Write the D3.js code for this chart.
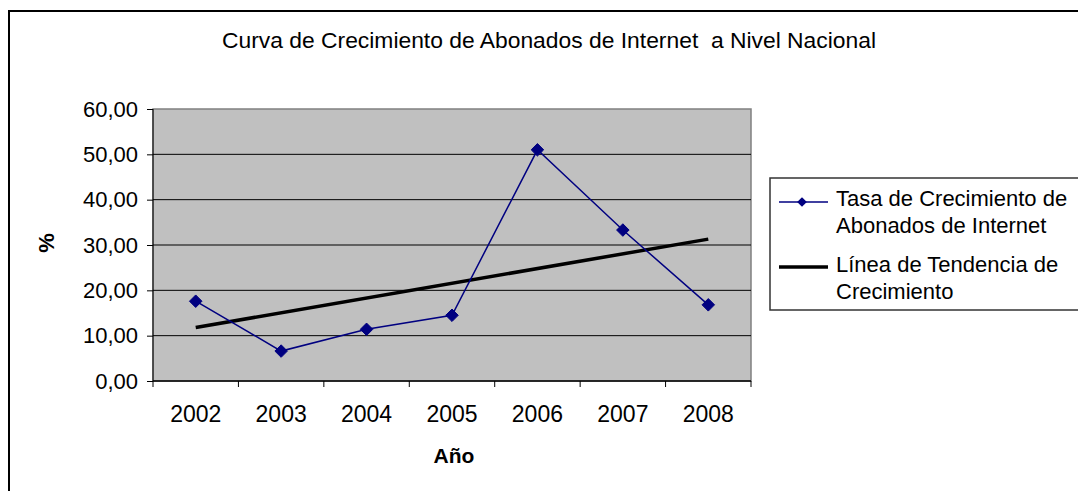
<!DOCTYPE html>
<html>
<head>
<meta charset="utf-8">
<script src="https://cdn.jsdelivr.net/npm/d3@7"></script>
<style>
  body { margin: 0; background: #fff; }
  text { font-family: "Liberation Sans", Arial, sans-serif; fill: #000; }
</style>
</head>
<body>
<div id="chart"></div>
<script>
// values
var years = ['2002', '2003', '2004', '2005', '2006', '2007', '2008'];
var tasa = [17.6, 6.6, 11.4, 14.5, 51.0, 33.3, 16.8];
var trendYears = ['2002', '2008'];
var trendValues = [11.8, 31.3];
var yTicks = [0, 10, 20, 30, 40, 50, 60];
var legendLabels = [
	['Tasa de Crecimiento de', 'Abonados de Internet'],
	['Línea de Tendencia de', 'Crecimiento']
];

var width = 1078, height = 491;
var plot = { left: 153, right: 751, top: 109, bottom: 381 };

var svg = d3.select('#chart').append('svg')
	.attr('width', width).attr('height', height);

// chart frame
svg.append('rect')
	.attr('x', 9).attr('y', 11)
	.attr('width', 1100).attr('height', 520)
	.attr('fill', '#fff').attr('stroke', '#000').attr('stroke-width', 2);

svg.append('text')
	.attr('x', 549).attr('y', 48)
	.attr('text-anchor', 'middle')
	.attr('font-size', 22)
	.style('white-space', 'pre')
	.attr('textLength', 654).attr('lengthAdjust', 'spacingAndGlyphs')
	.text('Curva de Crecimiento de Abonados de Internet  a Nivel Nacional');

var x = d3.scaleBand().domain(years).range([plot.left, plot.right]);
var y = d3.scaleLinear().domain([0, 60]).range([plot.bottom, plot.top]);

// plot area
svg.append('rect')
	.attr('x', plot.left).attr('y', plot.top)
	.attr('width', plot.right - plot.left).attr('height', plot.bottom - plot.top)
	.attr('fill', '#c0c0c0').attr('stroke', '#808080').attr('stroke-width', 1.5);

svg.append('g').selectAll('line')
	.data(yTicks.filter(function(d) { return d > 0 && d < 60; }))
	.enter().append('line')
	.attr('x1', plot.left).attr('x2', plot.right)
	.attr('y1', function(d) { return y(d); }).attr('y2', function(d) { return y(d); })
	.attr('stroke', '#000').attr('stroke-width', 1);

// y axis
var yAxis = svg.append('g')
	.attr('transform', 'translate(' + plot.left + ',0)')
	.call(d3.axisLeft(y).tickValues(yTicks).tickSize(6).tickPadding(9)
		.tickFormat(function(d) { return d3.format('.2f')(d).replace('.', ','); }));
yAxis.selectAll('text').attr('font-size', 22).style('font-family', '"Liberation Sans", Arial, sans-serif').attr('fill', '#000');
yAxis.selectAll('line, path').attr('stroke', '#000');
yAxis.select('.domain').attr('d', 'M0,' + plot.top + 'V' + plot.bottom);

// x axis, ticks between categories
var xAxis = svg.append('g')
	.attr('transform', 'translate(0,' + plot.bottom + ')');
xAxis.append('line')
	.attr('x1', plot.left).attr('x2', plot.right)
	.attr('stroke', '#000').attr('stroke-width', 1.5);
xAxis.selectAll('.tk')
	.data(years.concat(['end']))
	.enter().append('line')
	.attr('class', 'tk')
	.attr('x1', function(d) { return d === 'end' ? plot.right : x(d); })
	.attr('x2', function(d) { return d === 'end' ? plot.right : x(d); })
	.attr('y1', 0).attr('y2', 6)
	.attr('stroke', '#000');
xAxis.selectAll('text')
	.data(years)
	.enter().append('text')
	.attr('x', function(d) { return x(d) + x.bandwidth() / 2; })
	.attr('y', 41)
	.attr('text-anchor', 'middle')
	.attr('font-size', 23)
	.text(function(d) { return d; });

svg.append('text')
	.attr('x', 454).attr('y', 463)
	.attr('text-anchor', 'middle')
	.attr('font-size', 21).attr('font-weight', 'bold')
	.text('Año');

svg.append('text')
	.attr('transform', 'translate(54,243) rotate(-90)')
	.attr('text-anchor', 'middle')
	.attr('font-size', 22).attr('font-weight', 'bold')
	.text('%');

function cx(d) { return x(d) + x.bandwidth() / 2; }

// trend line
svg.append('path')
	.datum(trendYears.map(function(d, i) { return [d, trendValues[i]]; }))
	.attr('fill', 'none').attr('stroke', '#000').attr('stroke-width', 3.5)
	.attr('d', d3.line().x(function(d) { return cx(d[0]); }).y(function(d) { return y(d[1]); }));

// series
var series = years.map(function(d, i) { return [d, tasa[i]]; });
svg.append('path')
	.datum(series)
	.attr('fill', 'none').attr('stroke', '#000080').attr('stroke-width', 1.5)
	.attr('d', d3.line().x(function(d) { return cx(d[0]); }).y(function(d) { return y(d[1]); }));

var diamond = d3.symbol().type(d3.symbolDiamond2).size(100);
svg.append('g').selectAll('path')
	.data(series)
	.enter().append('path')
	.attr('d', diamond)
	.attr('transform', function(d) { return 'translate(' + cx(d[0]) + ',' + y(d[1]) + ')'; })
	.attr('fill', '#000080').attr('stroke', '#000080');

// legend
var legend = svg.append('g');
legend.append('rect')
	.attr('x', 770).attr('y', 178)
	.attr('width', 400).attr('height', 132)
	.attr('fill', '#fff').attr('stroke', '#333').attr('stroke-width', 1.5);

legend.append('line')
	.attr('x1', 779).attr('x2', 828).attr('y1', 202).attr('y2', 202)
	.attr('stroke', '#000080').attr('stroke-width', 1.5);
legend.append('path')
	.attr('d', d3.symbol().type(d3.symbolDiamond2).size(60))
	.attr('transform', 'translate(802,202)')
	.attr('fill', '#000080');
legend.append('line')
	.attr('x1', 779).attr('x2', 828).attr('y1', 267).attr('y2', 267)
	.attr('stroke', '#000').attr('stroke-width', 3.5);

var baselines = [[206, 233], [272, 299]];
legendLabels.forEach(function(lines, i) {
	lines.forEach(function(t, j) {
		legend.append('text')
			.attr('x', 836).attr('y', baselines[i][j])
			.attr('font-size', 22)
			.text(t);
	});
});
</script>
</body>
</html>
